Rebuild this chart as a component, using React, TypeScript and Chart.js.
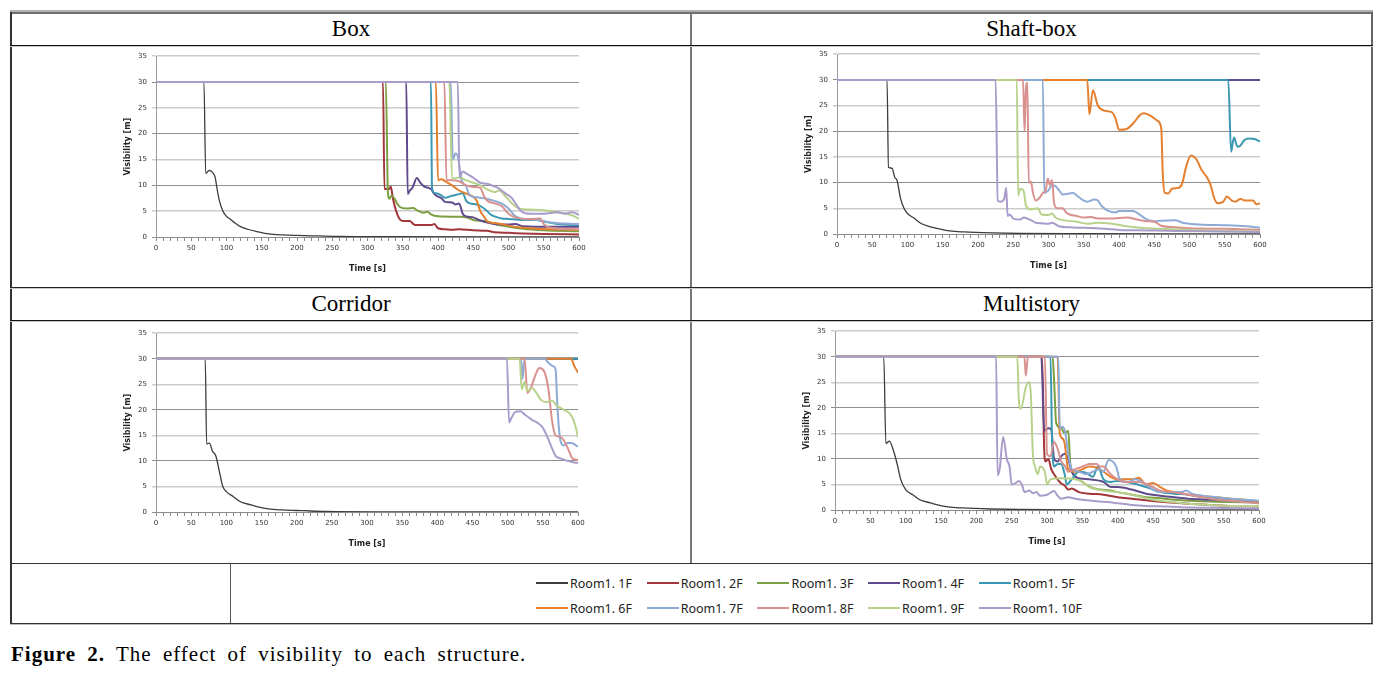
import React, { useEffect, useRef } from 'react';
import { Chart, registerables } from 'chart.js';

Chart.register(...registerables);

// ---------- labels & styles ----------
const floorLabels = ['Room1. 1F', 'Room1. 2F', 'Room1. 3F', 'Room1. 4F', 'Room1. 5F', 'Room1. 6F', 'Room1. 7F', 'Room1. 8F', 'Room1. 9F', 'Room1. 10F'];
const floorColors = ['#3c3c3c', '#a3363a', '#7c9f43', '#5f4a8b', '#3a98b2', '#e47f2e', '#8eabd6', '#d9918f', '#b8d28c', '#a99ccb'];
const xTickLabels = [0, 50, 100, 150, 200, 250, 300, 350, 400, 450, 500, 550, 600];
const yTickLabels = [0, 5, 10, 15, 20, 25, 30, 35];
const panelTitles = ['Box', 'Shaft-box', 'Corridor', 'Multistory'];

// ---------- Box ----------
const box1F = [[0,30],[68,30],[70.5,12.3],[73,12.6],[76,12.9],[80,12.5],[84,11.5],[87,9],[90,7],[95,5],[100,4],[105,3.5],[112,2.7],[120,2],[130,1.5],[145,1],[160,0.6],[180,0.4],[200,0.3],[230,0.2],[260,0.1],[330,0.05],[600,0]];
const box2F = [[0,30],[322,30],[324,9.3],[331,9.3],[333,9.8],[336,7.5],[340,5.3],[345,3.6],[350,3.1],[360,3.1],[365,2.5],[370,2.3],[390,2.3],[395,2.5],[400,1.7],[410,1.5],[420,1.4],[430,1.5],[450,1.3],[470,1.2],[480,0.9],[500,0.8],[520,0.7],[550,0.6],[600,0.5]];
const box3F = [[0,30],[326,30],[329,8.5],[331,7.4],[334,8],[338,7.5],[342,6.5],[346,5.8],[355,5.5],[365,5.6],[370,5.2],[380,4.7],[385,4.9],[390,4.4],[400,4],[430,3.9],[440,3.8],[450,3.3],[470,3],[480,2.5],[490,2.2],[500,2],[520,1.6],[550,1.3],[600,1.1]];
const box4F = [[0,30],[355,30],[357,8.3],[360,9],[364,9.6],[370,11.4],[375,10.5],[380,9.8],[390,9.3],[395,8.3],[400,7.8],[405,7.5],[410,6.8],[420,6.7],[425,6.3],[430,6.5],[435,4.5],[440,4],[450,3.8],[460,3.2],[470,2.8],[480,2.5],[500,2.4],[510,2.5],[520,2.1],[560,2],[600,2]];
const box5F = [[0,30],[390,30],[391.5,9.5],[395,8.5],[400,8.4],[405,8],[410,7.6],[420,8],[430,8.3],[435,8.5],[440,7],[445,6.5],[455,6.3],[460,6],[470,5],[475,4.3],[480,4],[490,3.6],[500,3.5],[520,3.3],[540,3.3],[550,3],[570,2.5],[600,2.3]];
const box6F = [[0,30],[397,30],[400,11],[405,11.2],[410,10.8],[420,10],[430,9],[440,8.4],[450,7.8],[455,7],[460,5],[465,4],[470,3],[480,2.7],[490,2.5],[500,2.2],[520,1.8],[540,1.6],[600,1.4]];
const box7F = [[0,30],[418,30],[421,15],[425,16.2],[429,15],[432,12],[435,10.5],[440,9.8],[445,8],[455,7.7],[465,7.5],[480,7],[490,6.5],[500,5.5],[510,4],[520,3.5],[540,3.3],[560,2.8],[600,2.5]];
const box8F = [[0,30],[409,30],[412,11],[420,11],[430,10.8],[440,10],[450,9.7],[460,9.5],[465,8],[470,7],[480,6.5],[490,6],[500,4.5],[510,3.8],[530,3.5],[545,3.6],[550,2.5],[560,1.8],[600,1.5]];
const box9F = [[0,30],[416,30],[420,11.3],[430,11.5],[440,11],[450,10.5],[460,10],[470,9.2],[480,8.7],[487,9],[495,8],[505,6.5],[515,5.5],[530,5.3],[550,5.2],[570,4.8],[590,4.2],[600,3.5]];
const box10F = [[0,30],[428,30],[430.5,11.5],[435,12.7],[440,12.3],[450,11.5],[460,10.5],[470,10.3],[480,9.8],[485,9.5],[495,8.5],[505,7.5],[510,6.5],[518,5],[530,4.5],[550,4.5],[570,4.8],[580,4.5],[590,4.8],[600,4.3]];

// ---------- Shaft-box ----------
const shaft1F = [[0,30],[71,30],[73,13],[78,12.8],[82,11],[85,10.5],[90,7],[95,5],[100,4],[110,3],[120,2],[130,1.5],[145,1],[160,0.6],[180,0.4],[220,0.2],[260,0.1],[350,0.05],[600,0]];
const shaft2F = [[0,30],[600,30]];
const shaft3F = [[0,30],[600,30]];
const shaft4F = [[0,30],[600,30]];
const shaft5F = [[0,30],[555,30],[559,16],[563,18.8],[568,17],[572,17.2],[578,18.3],[585,18.6],[592,18.5],[600,18]];
const shaft6F = [[0,30],[355,30],[358,23.3],[363,28],[370,25],[380,24],[390,23.7],[395,22.5],[400,20.3],[410,20.4],[420,21.5],[430,23.2],[435,23.5],[445,23],[455,22],[460,20.5],[462,12],[465,8],[470,7.9],[475,8.8],[485,9],[490,10],[495,13],[502,15.3],[510,14.5],[517,12.5],[525,11],[530,9.5],[535,7],[540,6],[548,6.3],[553,7.3],[560,6.5],[565,6.3],[572,6.8],[580,6.5],[590,6.5],[595,5.8],[600,6]];
const shaft7F = [[0,30],[292,30],[294,8],[300,8.5],[305,9.5],[310,9.3],[315,8.5],[320,7.7],[335,8],[340,7.5],[350,6.5],[355,6.3],[365,6.7],[370,6.5],[375,5.5],[385,4.5],[395,4.2],[400,4.5],[420,4.5],[430,3.7],[440,2.8],[450,2.5],[460,2.6],[480,2.7],[490,2.2],[520,1.8],[550,1.7],[580,1.5],[600,1.2]];
const shaft8F = [[0,30],[264,30],[266,20],[268,28],[270,29.5],[272,10],[275,10.2],[278,8],[282,6.5],[287,7],[292,8],[296,8.5],[299,10.8],[302,9.5],[305,10.5],[308,6],[312,5],[320,5],[325,4.2],[330,3.8],[340,3.5],[350,3.2],[360,3.3],[370,3],[390,3],[410,3.2],[430,2.7],[440,2.5],[450,2.4],[460,1.6],[480,1.3],[500,1.1],[550,1],[600,0.8]];
const shaft9F = [[0,30],[255,30],[257,7.5],[260,8.8],[265,8.3],[268,5.5],[275,4.8],[285,5],[290,3.8],[300,3.7],[305,4],[310,3.2],[320,2.7],[340,2.4],[355,2],[370,2.2],[390,2],[410,1.5],[430,1.2],[460,1],[500,0.8],[550,0.6],[600,0.5]];
const shaft10F = [[0,30],[225,30],[228,6.5],[232,6.3],[237,6.8],[240,9],[242,3.5],[245,3.8],[250,3],[260,2.8],[265,3.2],[275,2.7],[282,2.2],[290,2.1],[300,2],[305,2.2],[315,1.5],[330,1.3],[350,1.2],[380,1],[400,0.8],[440,0.7],[480,0.6],[540,0.5],[600,0.4]];

// ---------- Corridor ----------
const corr1F = [[0,30],[70,30],[72,13.3],[76,13.5],[80,12],[85,11],[90,8],[95,5],[100,4],[110,3],[120,2],[135,1.4],[145,1],[160,0.6],[180,0.4],[210,0.25],[240,0.1],[340,0.02],[600,0]];
const corr2F = [[0,30],[600,30]];
const corr3F = [[0,30],[600,30]];
const corr4F = [[0,30],[600,30]];
const corr5F = [[0,30],[600,30]];
const corr6F = [[0,30],[590,30],[595,28.5],[600,27.3]];
const corr7F = [[0,30],[519,30],[521,26],[524,30],[553,30],[556,29.5],[565,28.5],[568,28],[571,20],[575,14],[580,13],[585,13.5],[590,13.5],[600,12.8]];
const corr8F = [[0,30],[524,30],[528,23.3],[532,24],[540,27],[545,28.2],[552,27.5],[558,24],[563,18],[568,15],[575,14.7],[580,14],[587,12],[592,10.5],[600,10.2]];
const corr9F = [[0,30],[517,30],[520,24],[524,25.5],[528,23.7],[534,24.3],[540,23.5],[547,22],[555,21.5],[563,21.8],[570,20.8],[580,20],[590,19],[596,17],[600,14.7]];
const corr10F = [[0,30],[499,30],[502,17.5],[505,18.3],[510,19.5],[518,19.7],[525,19],[530,18.5],[535,18],[542,17.5],[550,16.5],[557,14.5],[563,12.5],[568,11],[575,10.5],[585,10],[595,9.7],[600,9.6]];

// ---------- Multistory ----------
const multi1F = [[0,30],[69,30],[72,13],[77,13.5],[83,11.5],[88,9],[93,6],[100,4],[110,3],[120,2],[135,1.4],[145,1],[160,0.6],[180,0.4],[220,0.2],[260,0.1],[340,0.02],[600,0]];
const multi2F = [[0,30],[293,30],[296,12],[298,9.5],[302,10],[306,8],[310,7],[315,6],[320,5.2],[325,4.8],[330,4],[335,4.2],[345,3.5],[360,3.2],[380,3],[400,2.5],[420,2.2],[440,1.9],[470,1.5],[500,1.2],[530,1],[560,0.8],[600,0.7]];
const multi3F = [[0,30],[308,30],[310,25.5],[313,17],[320,16],[325,15],[330,15.5],[333,9],[338,7],[345,6],[350,5.5],[355,5],[365,4.3],[375,4],[390,3.8],[400,3.5],[420,3],[440,2.5],[460,2.3],[480,2],[500,1.8],[540,1.6],[600,1.5]];
const multi4F = [[0,30],[292,30],[296,15.5],[302,16],[306,15.8],[310,10],[315,9.5],[320,10.5],[325,11],[330,10],[335,7.5],[340,6.5],[360,6],[380,5.5],[390,4.5],[400,4.5],[420,4],[440,3.2],[460,2.8],[480,2.5],[500,2.2],[530,2],[560,1.8],[600,1.5]];
const multi5F = [[0,30],[305,30],[307,14.5],[310,8.5],[315,9],[320,9],[325,7],[328,5],[335,6],[345,7.5],[355,7.3],[365,6.5],[372,8.5],[380,6],[390,5.5],[400,5.7],[420,5.3],[440,4.5],[460,3.5],[480,3.2],[500,3],[520,2.5],[540,2.3],[560,2],[600,1.7]];
const multi6F = [[0,30],[315,30],[318,15],[322,14],[325,13],[330,8],[340,7.5],[350,8],[360,8.5],[370,8.3],[380,7.5],[390,6.5],[400,6],[420,6],[430,6.3],[440,5],[450,5.3],[460,4.5],[470,3.8],[480,3.5],[490,3.3],[500,3],[520,2.7],[540,2.5],[560,2.2],[580,2],[600,1.7]];
const multi7F = [[0,30],[316,30],[318,16],[322,16.3],[326,15],[330,11],[335,8],[345,7.5],[355,7],[365,7.5],[375,8],[380,7.5],[387,9.8],[393,9.5],[398,8.5],[403,6],[415,5.5],[425,6],[440,5],[450,4],[460,3.5],[490,3.5],[497,3.8],[505,3.2],[520,2.8],[540,2.5],[560,2.2],[580,2],[600,1.8]];
const multi8F = [[0,30],[268,30],[270,26.3],[273,30],[297,30],[300,11],[305,10.5],[310,13.3],[315,12],[320,9.5],[325,8.7],[330,7.5],[340,8],[350,8.5],[360,9],[370,9],[375,8.5],[380,8.5],[390,7],[400,6],[410,5.5],[430,5.5],[450,4.5],[460,3.8],[480,3.5],[500,3],[520,2.5],[540,2],[560,1.8],[580,1.5],[600,1.3]];
const multi9F = [[0,30],[258,30],[260,22],[263,19.8],[270,24],[274,25],[277,23],[280,11],[283,8.5],[287,7],[290,8.5],[297,7.5],[300,5],[305,6],[320,6.2],[340,6],[350,5.5],[360,4.5],[380,3.8],[400,3.5],[420,3],[440,2.3],[460,1.8],[480,1.5],[500,1.2],[530,1],[560,0.8],[600,0.8]];
const multi10F = [[0,30],[228,30],[230,6.8],[233,8],[238,14.3],[243,10],[247,8.5],[250,5],[255,5.2],[260,5.7],[265,4.8],[268,3.5],[275,3.8],[280,3.3],[285,3.5],[290,2.8],[300,3],[310,3.7],[315,2.8],[320,2.2],[330,2.5],[340,2.2],[350,2],[370,1.7],[390,1.5],[400,1.3],[420,1],[440,0.8],[470,0.7],[500,0.5],[550,0.4],[600,0.3]];

const boxSeries = [box1F, box2F, box3F, box4F, box5F, box6F, box7F, box8F, box9F, box10F];
const shaftSeries = [shaft1F, shaft2F, shaft3F, shaft4F, shaft5F, shaft6F, shaft7F, shaft8F, shaft9F, shaft10F];
const corrSeries = [corr1F, corr2F, corr3F, corr4F, corr5F, corr6F, corr7F, corr8F, corr9F, corr10F];
const multiSeries = [multi1F, multi2F, multi3F, multi4F, multi5F, multi6F, multi7F, multi8F, multi9F, multi10F];

type Plot = { l: number; t: number; r: number; b: number };

const Y_W = 46;
const PAD_R = 12;
const PAD_T = 9;
const X_H = 40;

function LineChart({ series, plot }: { series: number[][][]; plot: Plot }) {
  const ref = useRef<HTMLCanvasElement>(null);
  const left = plot.l - Y_W;
  const top = plot.t - PAD_T;
  const width = plot.r - plot.l + Y_W + PAD_R;
  const height = plot.b - plot.t + PAD_T + X_H;

  useEffect(() => {
    if (!ref.current) return;
    const tickFont = { family: 'DejaVu Sans', size: 7 };
    const titleFont = { family: 'DejaVu Sans', size: 8, weight: 'bold' as const };
    const chart = new Chart(ref.current, {
      type: 'line',
      data: {
        datasets: series.map((s, i) => ({
          label: floorLabels[i],
          data: s.map(([x, y]) => ({ x, y })),
          borderColor: floorColors[i],
          backgroundColor: floorColors[i],
          borderWidth: i === 0 ? 1.3 : 2,
          pointRadius: 0,
          fill: false,
          cubicInterpolationMode: 'monotone' as const,
          order: 10 - i,
        })),
      },
      options: {
        animation: false,
        responsive: false,
        maintainAspectRatio: false,
        layout: { padding: { left: 0, right: PAD_R, top: PAD_T, bottom: 0 } },
        plugins: { legend: { display: false }, tooltip: { enabled: false } },
        scales: {
          x: {
            type: 'linear',
            min: 0,
            max: 600,
            afterFit: (s: any) => { s.height = X_H; },
            ticks: {
              stepSize: 10,
              autoSkip: false,
              maxRotation: 0,
              minRotation: 0,
              padding: 3,
              font: tickFont,
              color: '#333',
              callback: (v: any) => (xTickLabels.includes(Math.round(Number(v))) ? String(Math.round(Number(v))) : ''),
            },
            grid: { drawOnChartArea: false, drawTicks: true, tickLength: 4, color: '#8a8a8a' },
            border: { color: '#8a8a8a', width: 1 },
            title: { display: true, text: 'Time [s]', font: titleFont, color: '#222', padding: { top: 0, bottom: 3 } },
          },
          y: {
            type: 'linear',
            min: 0,
            max: 35,
            afterFit: (s: any) => { s.width = Y_W; },
            afterBuildTicks: (s: any) => { s.ticks = yTickLabels.map((v) => ({ value: v })); },
            ticks: { padding: 5, font: tickFont, color: '#333' },
            grid: {
              drawTicks: true,
              tickLength: 4,
              color: (ctx: any) => (ctx.tick && ctx.tick.value % 10 === 0 ? '#8e8e8e' : '#cbcbcb'),
              lineWidth: (ctx: any) => (ctx.tick && ctx.tick.value % 10 === 0 ? 1 : 1.5),
            },
            border: { color: '#9a9a9a', width: 1 },
            title: { display: true, text: 'Visibility [m]', font: titleFont, color: '#222', padding: { top: 13, bottom: 0 } },
          },
        },
      },
    });
    return () => chart.destroy();
  }, []);

  return <canvas ref={ref} width={width} height={height} style={{ position: 'absolute', left, top, width, height }} />;
}

function HLine({ x1, x2, y, color, h = 1 }: { x1: number; x2: number; y: number; color: string; h?: number }) {
  return <div style={{ position: 'absolute', left: x1, top: y, width: x2 - x1, height: h, background: color }} />;
}
function VLine({ y1, y2, x, color, w = 1 }: { y1: number; y2: number; x: number; color: string; w?: number }) {
  return <div style={{ position: 'absolute', left: x, top: y1, width: w, height: y2 - y1, background: color }} />;
}

function Header({ text, x1, x2, y1, y2 }: { text: string; x1: number; x2: number; y1: number; y2: number }) {
  return (
    <div
      style={{
        position: 'absolute', left: x1, top: y1, width: x2 - x1, height: y2 - y1,
        display: 'flex', alignItems: 'center', justifyContent: 'center',
        fontFamily: '"Liberation Serif", "Times New Roman", serif', fontSize: 23, color: '#000',
      }}
    >
      {text}
    </div>
  );
}

export default function App() {
  return (
    <div style={{ position: 'absolute', left: 0, top: 0, width: 1392, height: 678, background: '#fff', overflow: 'hidden' }}>
      {/* table lines */}
      <HLine x1={10} x2={1373} y={10} color="#b0b0b0" h={2} />
      <HLine x1={10} x2={1373} y={12} color="#6e6e6e" h={2} />
      <VLine x={10} y1={12} y2={624} color="#333" w={2} />
      <VLine x={1371} y1={12} y2={624} color="#666" w={2} />
      <VLine x={690} y1={12} y2={563} color="#777" w={2} />
      <HLine x1={10} x2={1373} y={45} color="#111" />
      <HLine x1={10} x2={1373} y={46} color="#c8c8c8" />
      <HLine x1={10} x2={1373} y={287} color="#222" />
      <HLine x1={10} x2={1373} y={288} color="#c8c8c8" />
      <HLine x1={10} x2={1373} y={320} color="#111" />
      <HLine x1={10} x2={1373} y={321} color="#c8c8c8" />
      <HLine x1={10} x2={1373} y={563} color="#333" />
      <HLine x1={10} x2={1373} y={623} color="#333" />
      <HLine x1={10} x2={1373} y={624} color="#bbb" />
      <VLine x={230} y1={563} y2={623} color="#555" />

      <Header text={panelTitles[0]} x1={11} x2={691} y1={13} y2={45} />
      <Header text={panelTitles[1]} x1={691} x2={1372} y1={13} y2={45} />
      <Header text={panelTitles[2]} x1={11} x2={691} y1={288} y2={320} />
      <Header text={panelTitles[3]} x1={691} x2={1372} y1={288} y2={320} />

      <LineChart series={boxSeries} plot={{ l: 156, t: 56, r: 579, b: 237 }} />
      <LineChart series={shaftSeries} plot={{ l: 837, t: 54, r: 1260, b: 234 }} />
      <LineChart series={corrSeries} plot={{ l: 156, t: 333, r: 578, b: 512 }} />
      <LineChart series={multiSeries} plot={{ l: 835, t: 331, r: 1259, b: 510 }} />

      {/* legend */}
      {floorLabels.map((lab, i) => {
        const row = i < 5 ? 0 : 1;
        const col = i % 5;
        const x = 536 + col * 110.7;
        const cy = row === 0 ? 583 : 608;
        return (
          <div key={lab} style={{ position: 'absolute', left: x, top: cy - 9, height: 18, display: 'flex', alignItems: 'center', whiteSpace: 'nowrap' }}>
            <div style={{ width: 32, height: 2, background: floorColors[i], marginRight: 2 }} />
            <span style={{ fontFamily: '"Noto Sans", sans-serif', fontSize: 12.5, color: '#222' }}>{lab}</span>
          </div>
        );
      })}

      {/* caption */}
      <div
        style={{
          position: 'absolute', left: 11, top: 642, whiteSpace: 'nowrap',
          fontFamily: '"Liberation Serif", "Times New Roman", serif', fontSize: 21, lineHeight: '24px', color: '#000',
          letterSpacing: 1, wordSpacing: 5,
        }}
      >
        <b>Figure 2.</b> The effect of visibility to each structure.
      </div>
    </div>
  );
}
